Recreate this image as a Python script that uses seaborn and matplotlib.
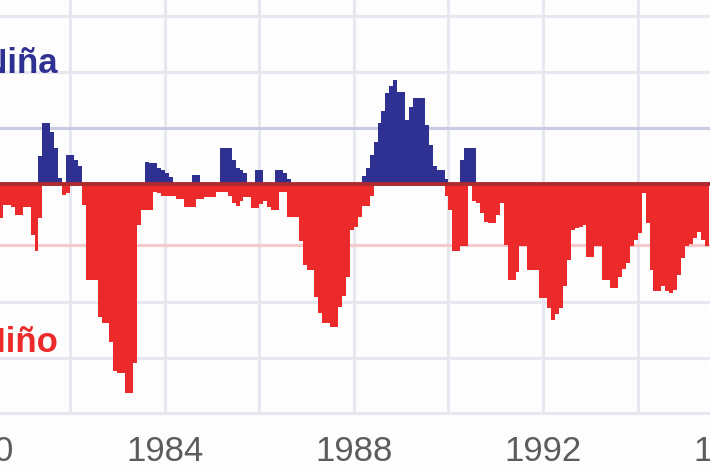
import numpy as np
import matplotlib.pyplot as plt
import seaborn as sns

# monthly index values, first month = July 1980
start_year = 1980.5
la_nina = [
    0, 0, 0, 0, 0, 0, 0, 0, 0, 0, 0.5, 1.10,
    1.10, 0.94, 0.64, 0.11, 0, 0.52, 0.52, 0.44, 0.33, 0, 0, 0,
    0, 0, 0, 0, 0, 0, 0, 0, 0, 0, 0, 0,
    0, 0.4, 0.38, 0.38, 0.29, 0.26, 0.2, 0.14, 0, 0, 0, 0,
    0, 0.17, 0.17, 0, 0, 0, 0, 0, 0.64, 0.64, 0.64, 0.44,
    0.3, 0.26, 0.2, 0, 0, 0.26, 0.26, 0, 0, 0, 0.26, 0.26,
    0.2, 0.1, 0, 0, 0, 0, 0, 0, 0, 0, 0, 0,
    0, 0, 0, 0, 0, 0, 0, 0, 0.15, 0.3, 0.52, 0.76,
    1.09, 1.3, 1.62, 1.75, 1.86, 1.65, 1.65, 1.15, 1.38, 1.53, 1.53, 1.53,
    1.06, 0.7, 0.32, 0.26, 0.26, 0.1, 0, 0, 0, 0.44, 0.64, 0.64,
    0.64, 0, 0, 0, 0, 0, 0, 0, 0, 0, 0, 0,
    0, 0, 0, 0, 0, 0, 0, 0, 0, 0, 0, 0,
    0, 0, 0, 0, 0, 0, 0, 0, 0, 0, 0, 0,
    0, 0, 0, 0, 0, 0, 0, 0, 0, 0, 0, 0,
    0, 0, 0, 0, 0, 0, 0, 0, 0, 0, 0, 0,
]
el_nino = [
    -0.6, -0.36, -0.36, -0.4, -0.54, -0.54, -0.4, -0.4, -0.9, -1.19, -0.6, 0,
    0, 0, 0, 0, -0.19, -0.15, 0, 0, 0, -0.36, -1.7, -1.7,
    -1.7, -2.35, -2.47, -2.47, -2.79, -3.32, -3.35, -3.35, -3.71, -3.71, -3.18, -0.72,
    -0.45, -0.45, -0.45, -0.13, -0.15, -0.2, -0.2, -0.2, -0.2, -0.26, -0.26, -0.4,
    -0.4, -0.4, -0.26, -0.26, -0.23, -0.23, -0.23, -0.13, -0.13, -0.13, -0.2, -0.33,
    -0.39, -0.3, -0.22, -0.22, -0.42, -0.42, -0.35, -0.3, -0.4, -0.45, -0.45, -0.13,
    -0.13, -0.57, -0.57, -0.57, -1.01, -1.43, -1.52, -1.52, -2.0, -2.29, -2.47, -2.47,
    -2.53, -2.53, -2.17, -1.99, -1.64, -0.81, -0.75, -0.57, -0.39, -0.39, -0.2, 0,
    0, 0, 0, 0, 0, 0, 0, 0, 0, 0, 0, 0,
    0, 0, 0, 0, 0, -0.2, -0.45, -1.19, -1.19, -1.1, -1.1, 0,
    -0.3, -0.33, -0.5, -0.66, -0.69, -0.69, -0.54, -0.33, -1.07, -1.7, -1.7, -1.55,
    -1.1, -1.1, -1.52, -1.52, -1.52, -2.02, -2.02, -2.2, -2.41, -2.3, -2.2, -1.81,
    -1.34, -0.81, -0.78, -0.75, -0.72, -1.28, -1.28, -1.1, -1.1, -1.7, -1.7, -1.84,
    -1.84, -1.64, -1.5, -1.4, -1.1, -0.99, -0.87, -0.16, -0.69, -1.52, -1.9, -1.9,
    -1.81, -1.9, -1.93, -1.87, -1.6, -1.3, -1.1, -1.05, -0.95, -0.84, -0.99, -1.1,
]
tick_years = [1980, 1984, 1988, 1992, 1996]
tick_labels = ["1980", "1984", "1988", "1992", "1996"]
grid_years = list(range(1980, 1998, 2))
label_nina = "La Niña"
label_nino = "El Niño"

# style
BLUE = "#2e3192"
RED = "#ec2a2b"
GRID = "#e7e7ef"
grid_levels = [3, 2, 1, 0, -1.08, -2.08, -3.08]

sns.set_theme(style="white")
plt.rcParams['font.family'] = ['Liberation Sans', 'DejaVu Sans']

fig = plt.figure(figsize=(7.1, 4.73), dpi=100)
fig.patch.set_facecolor("#fcfdfc")
# axes run a little past both figure edges so the 1980 / 1996 labels get cut like the original
ax = fig.add_axes([-30 / 710, 60 / 473, 770 / 710, 413 / 473])
ax.set_facecolor("#fcfdfc")

def step_xy(vals):
    x = start_year + np.arange(len(vals) + 1) / 12.0
    y = np.append(vals, vals[-1])
    return x, y

for lv in grid_levels:
    ax.axhline(lv, color=GRID, lw=2.2, zorder=0)
for yr in grid_years:
    ax.axvline(yr, color=GRID, lw=2.2, zorder=0)
ax.axhline(1, color="#c9cbe3", lw=2.2, zorder=1)
ax.axhline(-1.08, color="#f8c9ca", lw=2.2, zorder=1)

xb, yb = step_xy(la_nina)
ax.fill_between(xb, 0, yb, step="post", color=BLUE, lw=0, zorder=2)
xr, yr_ = step_xy(el_nino)
ax.fill_between(xr, 0, yr_, step="post", color=RED, lw=0, zorder=2)
ax.axhline(0, color="#ad2a2f", lw=2.8, zorder=3)

ax.set_yticks([])
ax.set_xticks(tick_years)
ax.set_xticklabels(tick_labels)
ax.set_xlim(1979.886, 1996.162)
ax.set_ylim(-4.06, 3.277)
ax.tick_params(axis="x", length=0, pad=16, labelsize=25, labelcolor="#5c5c5c")
sns.despine(ax=ax, left=True, right=True, top=True)
ax.spines["bottom"].set_color(GRID)
ax.spines["bottom"].set_linewidth(2.2)

fig.text(58 / 710, 1 - 73 / 473, label_nina, ha="right", va="baseline",
         fontsize=25, fontweight="bold", color=BLUE)
fig.text(58 / 710, 1 - 352 / 473, label_nino, ha="right", va="baseline",
         fontsize=25, fontweight="bold", color=RED)

fig.savefig("out.png", dpi=100, facecolor=fig.get_facecolor())
